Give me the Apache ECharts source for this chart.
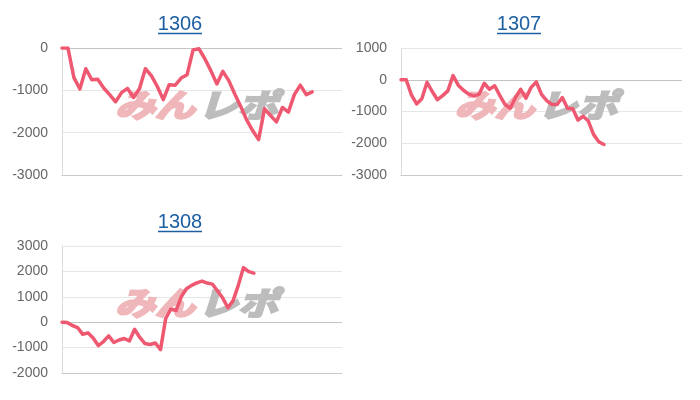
<!DOCTYPE html>
<html><head><meta charset="utf-8">
<script src="https://cdn.jsdelivr.net/npm/echarts@6/dist/echarts.min.js"></script>
<style>html,body{margin:0;padding:0;background:#fff}#c{width:700px;height:400px}</style>
</head><body><div id="c"></div>
<script>
const titles = ['1306', '1307', '1308'];
const cats1306 = [1,2,3,4,5,6,7,8,9,10,11,12,13,14,15,16,17,18,19,20,21,22,23,24,25,26,27,28,29,30,31,32,33,34,35,36,37,38,39,40,41,42,43,44,45,46,47,48];
const cats1307 = [1,2,3,4,5,6,7,8,9,10,11,12,13,14,15,16,17,18,19,20,21,22,23,24,25,26,27,28,29,30,31,32,33,34,35,36,37,38,39,40,41,42,43,44,45,46,47,48,49,50,51,52,53,54,55];
const cats1308 = [1,2,3,4,5,6,7,8,9,10,11,12,13,14,15,16,17,18,19,20,21,22,23,24,25,26,27,28,29,30,31,32,33,34,35,36,37,38,39,40,41,42,43,44,45,46,47,48,49,50,51,52,53,54,55];
const vals1306 = [0,0,-700,-970,-490,-750,-740,-945,-1100,-1270,-1055,-955,-1170,-965,-490,-654,-910,-1220,-866,-880,-709,-630,-45,-20,-260,-540,-850,-551,-770,-1085,-1380,-1700,-1950,-2165,-1437,-1595,-1745,-1405,-1515,-1100,-878,-1102,-1035];
const vals1307 = [0,0,-480,-760,-600,-80,-370,-630,-500,-350,130,-170,-330,-450,-510,-460,-110,-300,-190,-500,-780,-900,-560,-300,-580,-240,-70,-460,-660,-780,-780,-560,-900,-910,-1270,-1150,-1300,-1720,-1950,-2040];
const vals1308 = [0,-10,-130,-210,-480,-420,-620,-920,-760,-540,-800,-700,-640,-740,-280,-600,-840,-880,-820,-1080,150,520,460,1000,1320,1450,1550,1620,1540,1500,1230,950,570,850,1450,2150,1990,1930];
const yTicks1306 = [-3000, -2000, -1000, 0];
const yTicks1307 = [-3000, -2000, -1000, 0, 1000];
const yTicks1308 = [-2000, -1000, 0, 1000, 2000, 3000];

const panels = [
  {title: titles[0], cats: cats1306, vals: vals1306, ticks: yTicks1306, grid: {left: 62, top: 48, width: 280, height: 127}},
  {title: titles[1], cats: cats1307, vals: vals1307, ticks: yTicks1307, grid: {left: 401, top: 48, width: 281, height: 127}},
  {title: titles[2], cats: cats1308, vals: vals1308, ticks: yTicks1308, grid: {left: 62, top: 246, width: 280, height: 127}}
];

const chart = echarts.init(document.getElementById('c'), null, {renderer: 'canvas'});
const LINE = '#ef5871';
const FONT = '"Liberation Sans", Arial, sans-serif';
const WM_FONT = 'italic bold 40px "Noto Sans CJK JP"';
const WM_PINK = '#f0b7bb';
const WM_GRAY = '#bdbdbd';

const grid = [], xAxis = [], yAxis = [], series = [], graphic = [];
panels.forEach((p, i) => {
  grid.push(Object.assign({containLabel: false}, p.grid));
  xAxis.push({
    type: 'category', gridIndex: i, data: p.cats, boundaryGap: false,
    axisLine: {show: true, onZero: false, lineStyle: {color: '#c9c9c9', width: 1}},
    axisTick: {show: false}, axisLabel: {show: false}, splitLine: {show: false}
  });
  yAxis.push({
    type: 'value', gridIndex: i,
    min: p.ticks[0], max: p.ticks[p.ticks.length - 1], interval: 1000,
    axisLine: {show: true, lineStyle: {color: '#dcdcdc'}},
    axisTick: {show: false},
    axisLabel: {color: '#666', fontSize: 14, fontFamily: FONT, margin: 14, formatter: v => String(v)},
    splitLine: {show: true, lineStyle: {color: '#e6e6e6', width: 1}}
  });
  series.push({
    type: 'line', xAxisIndex: i, yAxisIndex: i, data: p.vals,
    showSymbol: false, symbol: 'none', smooth: false, z: 5,
    lineStyle: {color: LINE, width: 3.5, join: 'round', cap: 'round'},
    markLine: {
      silent: true, symbol: 'none', label: {show: false},
      lineStyle: {color: '#c4c4c4', width: 1, type: 'solid'},
      data: [{yAxis: 0}], animation: false
    }
  });
  const cx = p.grid.left + p.grid.width / 2;
  const titleX = p.grid.left + 118;
  const titleY = p.grid.top - 23.5;
  graphic.push({
    type: 'text', x: titleX, y: titleY, z: 10,
    style: {text: p.title, fill: '#1d5fa3', font: '20px ' + FONT, textAlign: 'center', textVerticalAlign: 'middle'}
  });
  graphic.push({
    type: 'line', z: 10,
    shape: {x1: titleX - 22, y1: titleY + 9, x2: titleX + 22, y2: titleY + 9},
    style: {stroke: '#1d5fa3', lineWidth: 1.5}
  });
  const wy = p.grid.top + p.grid.height / 2 - 7;
  graphic.push({
    type: 'text', x: cx - 87, y: wy, z: 1, scaleX: 1.0, scaleY: 0.8,
    style: {text: 'みん', fill: WM_PINK, stroke: WM_PINK, lineWidth: 3, font: WM_FONT, textAlign: 'left', textVerticalAlign: 'middle'}
  });
  graphic.push({
    type: 'text', x: cx - 4, y: wy, z: 1, scaleX: 1.0, scaleY: 0.8,
    style: {text: 'レポ', fill: WM_GRAY, stroke: WM_GRAY, lineWidth: 3, font: WM_FONT, textAlign: 'left', textVerticalAlign: 'middle'}
  });
});

chart.setOption({
  animation: false,
  backgroundColor: '#fff',
  grid, xAxis, yAxis, series, graphic
});
</script></body></html>
